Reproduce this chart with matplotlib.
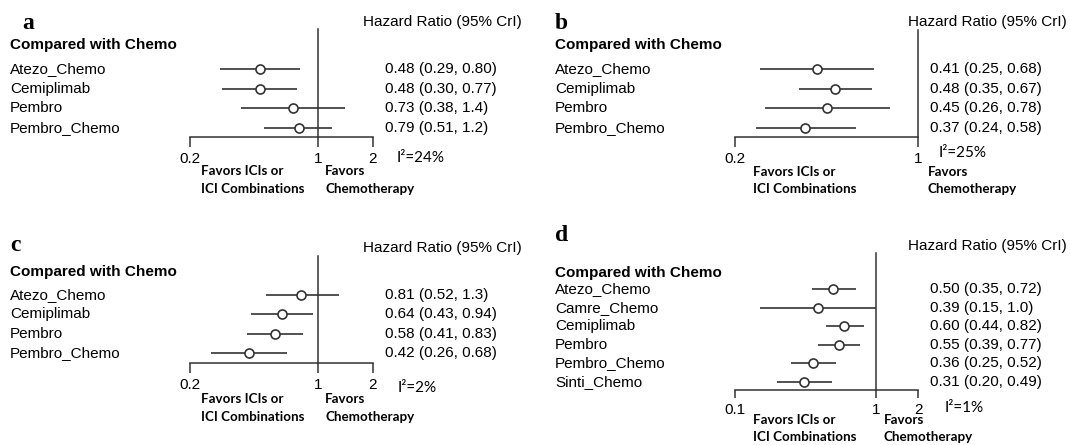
import matplotlib
matplotlib.use('Agg')
import matplotlib.pyplot as plt
from matplotlib.ticker import FixedLocator, FixedFormatter, NullLocator
from matplotlib.transforms import blended_transform_factory

# ---------------- data ----------------
labels_a = ['Atezo_Chemo', 'Cemiplimab', 'Pembro', 'Pembro_Chemo']
hr_a = [0.48, 0.48, 0.73, 0.79]
lo_a = [0.29, 0.30, 0.38, 0.51]
hi_a = [0.80, 0.77, 1.4, 1.2]
i2_a = '24%'

labels_b = ['Atezo_Chemo', 'Cemiplimab', 'Pembro', 'Pembro_Chemo']
hr_b = [0.41, 0.48, 0.45, 0.37]
lo_b = [0.25, 0.35, 0.26, 0.24]
hi_b = [0.68, 0.67, 0.78, 0.58]
i2_b = '25%'

labels_c = ['Atezo_Chemo', 'Cemiplimab', 'Pembro', 'Pembro_Chemo']
hr_c = [0.81, 0.64, 0.58, 0.42]
lo_c = [0.52, 0.43, 0.41, 0.26]
hi_c = [1.3, 0.94, 0.83, 0.68]
i2_c = '2%'

labels_d = ['Atezo_Chemo', 'Camre_Chemo', 'Cemiplimab', 'Pembro',
            'Pembro_Chemo', 'Sinti_Chemo']
hr_d = [0.50, 0.39, 0.60, 0.55, 0.36, 0.31]
lo_d = [0.35, 0.15, 0.44, 0.39, 0.25, 0.20]
hi_d = [0.72, 1.0, 0.82, 0.77, 0.52, 0.49]
i2_d = '1%'

ticks_a = [0.2, 1, 2]
ticks_b = [0.2, 1]
ticks_c = [0.2, 1, 2]
ticks_d = [0.1, 1, 2]
ticklabels_a = ['0.2', '1', '2']
ticklabels_b = ['0.2', '1']
ticklabels_c = ['0.2', '1', '2']
ticklabels_d = ['0.1', '1', '2']

# ---------------- layout ----------------
W, H = 1070, 445
fig = plt.figure(figsize=(W / 100, H / 100), dpi=100)
SANS = 'Liberation Sans'
FAV = 'Lato'
LC = '#333333'


def fx(x):
    return x / W


def fy(y):
    return 1 - y / H


def fmt(v):
    return f"{v:#.2g}"


panels = [
    dict(letter='a', labels=labels_a, hr=hr_a, lo=lo_a, hi=hi_a, i2=i2_a,
         ticks=ticks_a, tl=ticklabels_a,
         letter_xy=(22, 29), hr_xy=(522, 22), comp_xy=(10, 45), labx=10,
         first=69, step=19.6, ytop=29, yaxis=137, px=(190, 373), xl=(0.2, 2),
         valx=385, fav1x=201, fav2x=325, favy=(171, 189), i2xy=(397, 158),
         ticklen=10),
    dict(letter='b', labels=labels_b, hr=hr_b, lo=lo_b, hi=hi_b, i2=i2_b,
         ticks=ticks_b, tl=ticklabels_b,
         letter_xy=(555, 29), hr_xy=(1067, 22), comp_xy=(555, 45), labx=555,
         first=69, step=19.6, ytop=30, yaxis=137, px=(735, 918), xl=(0.2, 1),
         valx=930, fav1x=753, fav2x=928, favy=(172, 189), i2xy=(939, 153),
         ticklen=10),
    dict(letter='c', labels=labels_c, hr=hr_c, lo=lo_c, hi=hi_c, i2=i2_c,
         ticks=ticks_c, tl=ticklabels_c,
         letter_xy=(10, 251), hr_xy=(522, 248), comp_xy=(10, 272), labx=10,
         first=295, step=19.3, ytop=256, yaxis=363, px=(190, 373), xl=(0.2, 2),
         valx=385, fav1x=201, fav2x=325, favy=(399, 417), i2xy=(398, 388),
         ticklen=10),
    dict(letter='d', labels=labels_d, hr=hr_d, lo=lo_d, hi=hi_d, i2=i2_d,
         ticks=ticks_d, tl=ticklabels_d,
         letter_xy=(555, 241), hr_xy=(1067, 246), comp_xy=(555, 273), labx=555,
         first=289, step=18.6, ytop=253, yaxis=390, px=(735, 918), xl=(0.1, 2),
         valx=930, fav1x=753, fav2x=884, favy=(420, 437), i2xy=(945, 408),
         ticklen=8),
]

for p in panels:
    x0, x1 = p['px']
    ax = fig.add_axes([fx(x0), fy(p['yaxis']), (x1 - x0) / W,
                       (p['yaxis'] - p['ytop']) / H])
    ax.set_xscale('log')
    ax.set_xlim(*p['xl'])
    n = len(p['labels'])
    ax.set_ylim((p['yaxis'] - p['first']) / p['step'],
                (p['ytop'] - p['first']) / p['step'])
    rows = list(range(n))
    ax.axvline(1, color=LC, lw=1.1, zorder=1, clip_on=False)
    ax.hlines(rows, p['lo'], p['hi'], color=LC, lw=1.2, zorder=2)
    ax.plot(p['hr'], rows, 'o', ms=6.5, mfc='white', mec=LC, mew=1.2,
            zorder=3, clip_on=False)
    for s in ('top', 'right', 'left'):
        ax.spines[s].set_visible(False)
    ax.spines['bottom'].set_color(LC)
    ax.spines['bottom'].set_linewidth(1.1)
    ax.xaxis.set_major_locator(FixedLocator(p['ticks']))
    ax.xaxis.set_major_formatter(FixedFormatter(p['tl']))
    ax.xaxis.set_minor_locator(NullLocator())
    ax.tick_params(axis='x', direction='out', length=p['ticklen'] * 0.72,
                   width=1.1, color=LC, pad=3.6, labelsize=11)
    for t in ax.get_xticklabels():
        t.set_fontfamily(SANS)
    ax.set_yticks([])
    ax.patch.set_alpha(0)

    tr = blended_transform_factory(fig.transFigure, ax.transData)
    for i, lab in enumerate(p['labels']):
        ax.text(fx(p['labx']), i, lab, transform=tr, ha='left', va='center',
                fontsize=11, family=SANS)
        txt = f"{fmt(p['hr'][i])} ({fmt(p['lo'][i])}, {fmt(p['hi'][i])})"
        ax.text(fx(p['valx']), i, txt, transform=tr, ha='left', va='center',
                fontsize=11, family=SANS)

    lx, ly = p['letter_xy']
    fig.text(fx(lx), fy(ly), p['letter'], ha='left', va='baseline',
             fontsize=17, fontweight='bold', family='Liberation Serif')
    hx, hy = p['hr_xy']
    fig.text(fx(hx), fy(hy), 'Hazard Ratio (95% CrI)', ha='right', va='center',
             fontsize=11, family=SANS)
    cx, cy = p['comp_xy']
    fig.text(fx(cx), fy(cy), 'Compared with Chemo', ha='left', va='center',
             fontsize=11, fontweight='bold', family=SANS)
    fy1, fy2 = p['favy']
    fig.text(fx(p['fav1x']), fy(fy1), 'Favors ICIs or', ha='left', va='center',
             fontsize=9.6, fontweight='bold', family=FAV)
    fig.text(fx(p['fav1x']), fy(fy2), 'ICI Combinations', ha='left',
             va='center', fontsize=9.6, fontweight='bold', family=FAV)
    fig.text(fx(p['fav2x']), fy(fy1), 'Favors', ha='left', va='center',
             fontsize=9.6, fontweight='bold', family=FAV)
    fig.text(fx(p['fav2x']), fy(fy2), 'Chemotherapy', ha='left', va='center',
             fontsize=9.6, fontweight='bold', family=FAV)
    ix, iy = p['i2xy']
    fig.text(fx(ix), fy(iy), 'I\u00b2=' + p['i2'], ha='left', va='center',
             fontsize=11, family=FAV)

fig.savefig('out.png', dpi=100, facecolor='white')
